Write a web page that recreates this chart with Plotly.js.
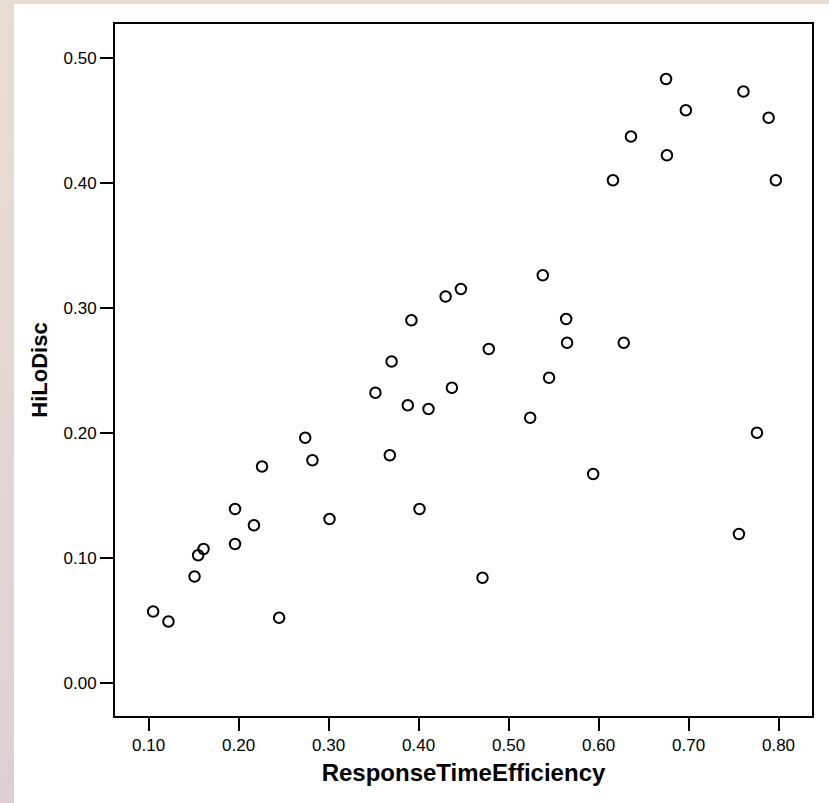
<!DOCTYPE html>
<html>
<head>
<meta charset="utf-8">
<script src="https://cdn.plot.ly/plotly-3.0.1.min.js"></script>
<style>
  html, body {
    margin: 0;
    padding: 0;
    width: 829px;
    height: 803px;
    overflow: hidden;
    background: linear-gradient(to bottom, #e9ddd1 0%, #e5d6d2 50%, #e0cfd2 100%);
  }
  #chart {
    position: absolute;
    left: 14px;
    top: 4px;
    width: 815px;
    height: 799px;
  }
</style>
</head>
<body>
<div id="chart"></div>
<script>
// values
let responseTimeEfficiency = [
    0.105, 0.122, 0.151, 0.155, 0.161, 0.196, 0.196, 0.217, 0.226, 0.245,
    0.274, 0.282, 0.301, 0.352, 0.368, 0.370, 0.388, 0.392, 0.401, 0.411,
    0.430, 0.437, 0.447, 0.471, 0.478, 0.524, 0.538, 0.545, 0.564, 0.565,
    0.594, 0.616, 0.628, 0.636, 0.675, 0.676, 0.697, 0.756, 0.761, 0.776,
    0.789, 0.797
];
let hiLoDisc = [
    0.057, 0.049, 0.085, 0.102, 0.107, 0.111, 0.139, 0.126, 0.173, 0.052,
    0.196, 0.178, 0.131, 0.232, 0.182, 0.257, 0.222, 0.290, 0.139, 0.219,
    0.309, 0.236, 0.315, 0.084, 0.267, 0.212, 0.326, 0.244, 0.291, 0.272,
    0.167, 0.402, 0.272, 0.437, 0.483, 0.422, 0.458, 0.119, 0.473, 0.200,
    0.452, 0.402
];
let xTickVals = [0.1, 0.2, 0.3, 0.4, 0.5, 0.6, 0.7, 0.8];
let yTickVals = [0.0, 0.1, 0.2, 0.3, 0.4, 0.5];

let font_family = '"Liberation Sans", Arial, Helvetica, sans-serif';

function axisStyle(tickvals, range, title, titleSize) {
    return {
        range: range,
        tickmode: 'array',
        tickvals: tickvals,
        tickformat: '.2f',
        ticks: 'outside',
        ticklen: 13,
        tickwidth: 2,
        tickcolor: '#000',
        showline: true,
        mirror: true,
        linecolor: '#000',
        linewidth: 2,
        showgrid: false,
        zeroline: false,
        tickfont: {family: font_family, size: 17, color: '#000'},
        title: {
            text: title,
            font: {family: font_family, size: titleSize, color: '#000', weight: 'bold'},
            standoff: 10
        }
    };
}

var data = [
    {
        type: 'scatter',
        mode: 'markers',
        x: responseTimeEfficiency,
        y: hiLoDisc,
        marker: {
            symbol: 'circle-open',
            size: 10.5,
            color: '#000',
            line: {color: '#000', width: 2}
        },
        showlegend: false,
        hoverinfo: 'x+y'
    }
];

var layout = {
    width: 815,
    height: 799,
    margin: {l: 101, r: 17, t: 20, b: 87},
    paper_bgcolor: '#fff',
    plot_bgcolor: '#fff',
    font: {family: font_family, color: '#000'},
    xaxis: axisStyle(xTickVals, [0.0626, 0.8372], '<b>ResponseTimeEfficiency</b>', 24),
    yaxis: axisStyle(yTickVals, [-0.0266, 0.527], '<b>HiLoDisc</b>', 22)
};

Plotly.newPlot('chart', data, layout, {displayModeBar: false, staticPlot: true});
</script>
</body>
</html>
